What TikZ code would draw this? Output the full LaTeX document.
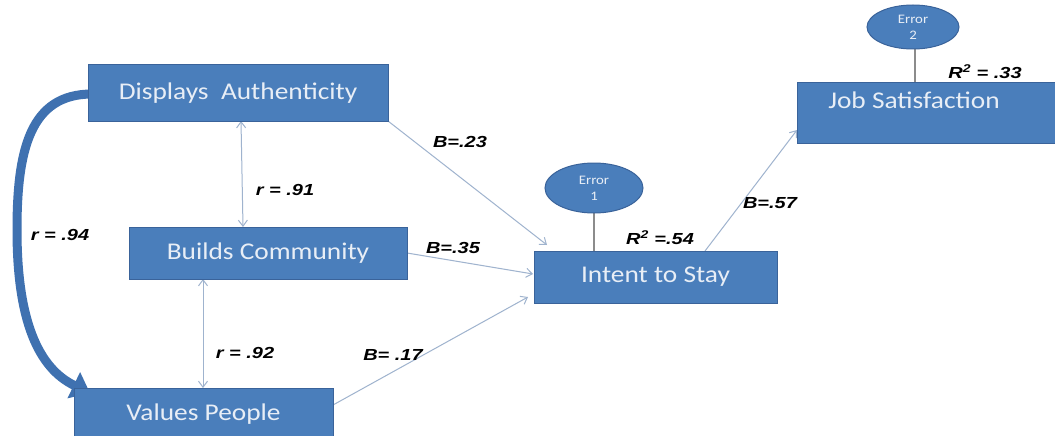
\documentclass[tikz,border=0pt]{standalone}
\usepackage{fontspec}
\setmainfont{Carlito}
\newfontfamily\boxfont[FakeStretch=1.14]{Carlito}
\newfontfamily\labfont[FakeStretch=1.25]{Liberation Sans}
\usetikzlibrary{arrows.meta,shapes.geometric}
\definecolor{boxblue}{HTML}{4A7EBB}
\definecolor{boxline}{HTML}{3A639A}
\definecolor{bandblue}{HTML}{3F71B0}
\definecolor{conn}{HTML}{9FB3CE}
\definecolor{errline}{HTML}{8C8C8C}
\definecolor{boxtext}{HTML}{E8EEF6}
\tikzset{
  boxnode/.style={rectangle, fill=boxblue, draw=boxline, line width=1pt, inner sep=0pt,
    text=boxtext, font=\boxfont\fontsize{24}{27}\selectfont},
  errnode/.style={ellipse, fill=boxblue, draw=boxline, line width=1pt, inner sep=0pt,
    text=boxtext, align=center, font=\boxfont\fontsize{13}{16}\selectfont},
  connarrow/.style={draw=conn, line width=1pt, -{Straight Barb[length=6pt,width=9pt]}},
  corrarrow/.style={draw=conn, line width=1pt, {Straight Barb[length=6pt,width=9pt]}-{Straight Barb[length=6pt,width=9pt]}},
  errconn/.style={draw=errline, line width=1.5pt},
  lab/.style={font=\labfont\bfseries\itshape\fontsize{16}{18}\selectfont, text=black, inner sep=0pt}
}
\begin{document}
\begin{tikzpicture}[x=1pt,y=-1pt]
\useasboundingbox (0,0) rectangle (1055,436);
\clip (0,0) rectangle (1055,436);
\fill[white] (0,0) rectangle (1055,436);

% coordinates for free connector ends
\coordinate (itsA) at (547,245);
\coordinate (itsB) at (533,274);
\coordinate (itsC) at (528,297);
\coordinate (itsTop) at (705,251);
\coordinate (jobL) at (797,130);
\coordinate (daS) at (241,121);
\coordinate (bcN) at (243,227);
\coordinate (bcS) at (203,279);
\coordinate (vpN) at (203,388);
\coordinate (daOut) at (388,121);
\coordinate (bcOut) at (407,253);
\coordinate (vpOut) at (333,405);
\coordinate (e1S) at (594,213);
\coordinate (itsN) at (594,251);
\coordinate (e2S) at (915,49);
\coordinate (jobN) at (915,83);
\coordinate (bandStart) at (92,94);
\coordinate (bandEnd) at (90,393);

% connectors
\draw[connarrow] (daOut) -- (itsA);
\draw[connarrow] (bcOut) -- (itsB);
\draw[connarrow] (vpOut) -- (itsC);
\draw[connarrow] (itsTop) -- (jobL);
\draw[corrarrow] (daS) -- (bcN);
\draw[corrarrow] (bcS) -- (vpN);
\draw[errconn] (e1S) -- (itsN);
\draw[errconn] (e2S) -- (jobN);

% big curved correlation arrow
\draw[bandblue, line width=9pt, -{Triangle[length=18pt,width=28pt]}]
  (bandStart) .. controls (30,94) and (17,150) .. (17,230)
  .. controls (17,320) and (38,368) .. (bandEnd);

% boxes
\node[boxnode, minimum width=300, minimum height=56] (da) at (238,93) {Displays\ \ Authenticity};
\node[boxnode, minimum width=278, minimum height=52] (bc) at (268,253) {Builds Community};
\node[boxnode, minimum width=259, minimum height=52] (vp) at (203.5,414) {Values People};
\node[boxnode, minimum width=243, minimum height=52] (its) at (655.5,277) {Intent to Stay};
\node[boxnode, minimum width=265, minimum height=60] (job) at (929.5,113) {};
\node[font=\boxfont\fontsize{24}{27}\selectfont, text=boxtext, inner sep=0pt] (jobt) at (914,100) {Job Satisfaction};

% error ellipses
\node[errnode, minimum width=98, minimum height=50] (e1) at (594,188) {Error\\1};
\node[errnode, minimum width=92, minimum height=44] (e2) at (913,27) {Error\\2};

% labels
\node[lab] (l1) at (460,142) {B=.23};
\node[lab] (l2) at (453,248) {B=.35};
\node[lab] (l3) at (393,355) {B= .17};
\node[lab] (l4) at (285,190) {r = .91};
\node[lab] (l5) at (245,353) {r = .92};
\node[lab] (l6) at (60,235) {r = .94};
\node[lab] (l7) at (660,238) {R\textsuperscript{2} =.54};
\node[lab] (l8) at (770,203) {B=.57};
\node[lab] (l9) at (985,72) {R\textsuperscript{2} = .33};
\end{tikzpicture}
\end{document}
